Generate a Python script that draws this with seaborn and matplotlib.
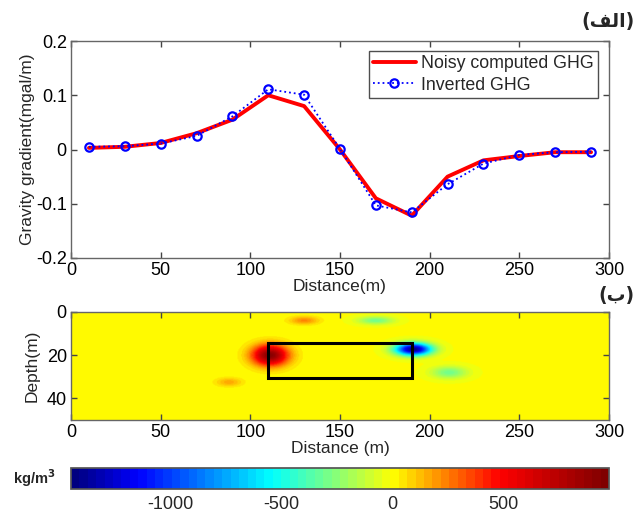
import numpy as np
import pandas as pd
import matplotlib
matplotlib.use("Agg")
import matplotlib.pyplot as plt
import seaborn as sns
from matplotlib.patches import Rectangle
from matplotlib.colors import LinearSegmentedColormap

sns.set_theme(style="white")
plt.rcParams['font.family'] = ['Liberation Sans', 'DejaVu Sans']
plt.rcParams['axes.unicode_minus'] = False

# ---- data: top panel ----
distance = [10, 30, 50, 70, 90, 110, 130, 150, 170, 190, 210, 230, 250, 270, 290]
noisy_ghg = [0.003, 0.005, 0.012, 0.030, 0.055, 0.100, 0.080, 0.000, -0.090,
             -0.122, -0.050, -0.020, -0.012, -0.005, -0.005]
inverted_ghg = [0.005, 0.006, 0.011, 0.025, 0.061, 0.111, 0.101, 0.001, -0.103,
                -0.116, -0.064, -0.026, -0.010, -0.005, -0.004]

# ---- data: bottom panel (density anomalies read from the section) ----
blob_x = [111, 191, 130, 170, 211, 88]
blob_z = [20, 17.2, 3.8, 3.8, 28, 32.5]
blob_amp = [930, -1420, 230, -300, -300, 170]
blob_sx = [7.0, 7.0, 5.5, 7.0, 7.0, 5.0]
blob_sz = [3.4, 2.0, 1.3, 1.3, 2.0, 1.4]
body_x = [110, 190]
body_z = [14.5, 30.5]
cbar_ticks = [-1000, -500, 0, 500]
cmap_pos = [0.0, 0.12, 0.37, 0.60, 0.80, 1.0]
cmap_col = [(0, 0, 0.5), (0, 0, 1), (0, 1, 1), (1, 1, 0), (1, 0, 0), (0.5, 0, 0)]

W, H = 637, 513
fig = plt.figure(figsize=(W / 100, H / 100), dpi=100)

def ax_px(left, top, right, bottom):
    return fig.add_axes([left / W, 1 - bottom / H, (right - left) / W, (bottom - top) / H])

TICK_FS = 13
LABEL_FS = 12.5

# ---------------- top panel ----------------
ax1 = ax_px(71, 41, 609, 258)
df = pd.DataFrame({'Distance': distance, 'noisy': noisy_ghg, 'inv': inverted_ghg})
sns.lineplot(data=df, x='Distance', y='noisy', ax=ax1, color='#ff0000', lw=2.8,
             label='Noisy computed GHG')
sns.lineplot(data=df, x='Distance', y='inv', ax=ax1, color='#0000ff', lw=1.3,
             linestyle=':', marker='o', markersize=6, markerfacecolor='none',
             markeredgecolor='#0000ff', markeredgewidth=1.6, label='Inverted GHG')
ax1.set_xlim(0, 300)
ax1.set_ylim(-0.2, 0.2)
ax1.set_xticks([0, 50, 100, 150, 200, 250, 300])
ax1.set_yticks([-0.2, -0.1, 0, 0.1, 0.2])
ax1.set_yticklabels(['-0.2', '-0.1', '0', '0.1', '0.2'])
ax1.set_xlabel('Distance(m)', fontsize=LABEL_FS, labelpad=0)
ax1.set_ylabel('Gravity gradient(mgal/m)', fontsize=LABEL_FS, labelpad=1)
leg = ax1.legend(loc='upper right', fontsize=12.8, frameon=True, fancybox=False,
                 edgecolor='#222222', handlelength=2.4, borderpad=0.25,
                 labelspacing=0.25, handletextpad=0.3, borderaxespad=0.3,
                 bbox_to_anchor=(0.99, 0.98))
leg.get_frame().set_linewidth(1.0)

# ---------------- bottom panel ----------------
ax2 = ax_px(71, 312, 609, 420)
gx = np.linspace(0, 300, 601)
gz = np.linspace(0, 50, 201)
X, Z = np.meshgrid(gx, gz)
field = np.zeros_like(X)
for cx, cz, a, sx, sz in zip(blob_x, blob_z, blob_amp, blob_sx, blob_sz):
    field += a * np.exp(-((X - cx) ** 2) / (2 * sx ** 2) - ((Z - cz) ** 2) / (2 * sz ** 2))
cmap = LinearSegmentedColormap.from_list('jetlike', list(zip(cmap_pos, cmap_col)), N=64)
im = ax2.imshow(field, extent=[0, 300, 50, 0], cmap=cmap, vmin=-1446, vmax=975,
                aspect='auto', interpolation='bilinear', origin='upper')
ax2.add_patch(Rectangle((body_x[0], body_z[0]), body_x[1] - body_x[0],
                        body_z[1] - body_z[0], fill=False, ec='black', lw=2.2))
ax2.set_xlim(0, 300)
ax2.set_ylim(50, 0)
ax2.set_xticks([0, 50, 100, 150, 200, 250, 300])
ax2.set_yticks([0, 20, 40])
ax2.set_xlabel('Distance (m)', fontsize=LABEL_FS, labelpad=0)
ax2.set_ylabel('Depth(m)', fontsize=LABEL_FS, labelpad=5)

for ax in (ax1, ax2):
    ax.tick_params(direction='in', length=4, width=1, colors='#444444',
                   labelcolor='black', labelsize=TICK_FS, top=True, right=True,
                   bottom=True, left=True, pad=3)
    for s in ax.spines.values():
        s.set_color('#666666')
        s.set_linewidth(1.0)

# ---------------- colorbar ----------------
cax = ax_px(71, 468, 609, 489)
cb = fig.colorbar(im, cax=cax, orientation='horizontal', ticks=cbar_ticks)
cb.ax.tick_params(direction='in', length=4, labelsize=TICK_FS, pad=5, color='#333333',
                  top=True, bottom=True)
cb.outline.set_edgecolor('#555555')
fig.text(34 / W, 1 - 478 / H, 'kg/m$^\\mathbf{3}$', fontsize=10.5, fontweight='bold',
         ha='center', va='center')

# Persian panel labels (presentation forms, visual order)
fig.text(635 / W, 1 - 21 / H, '(\uFED2\uFEDF\uFE8D)', fontsize=13.5, fontweight='bold',
         ha='right', va='center', family=['DejaVu Sans'])
fig.text(635 / W, 1 - 296 / H, '(\uFE8F)', fontsize=13.5, fontweight='bold',
         ha='right', va='center', family=['DejaVu Sans'])

fig.savefig('out.png', dpi=100)
